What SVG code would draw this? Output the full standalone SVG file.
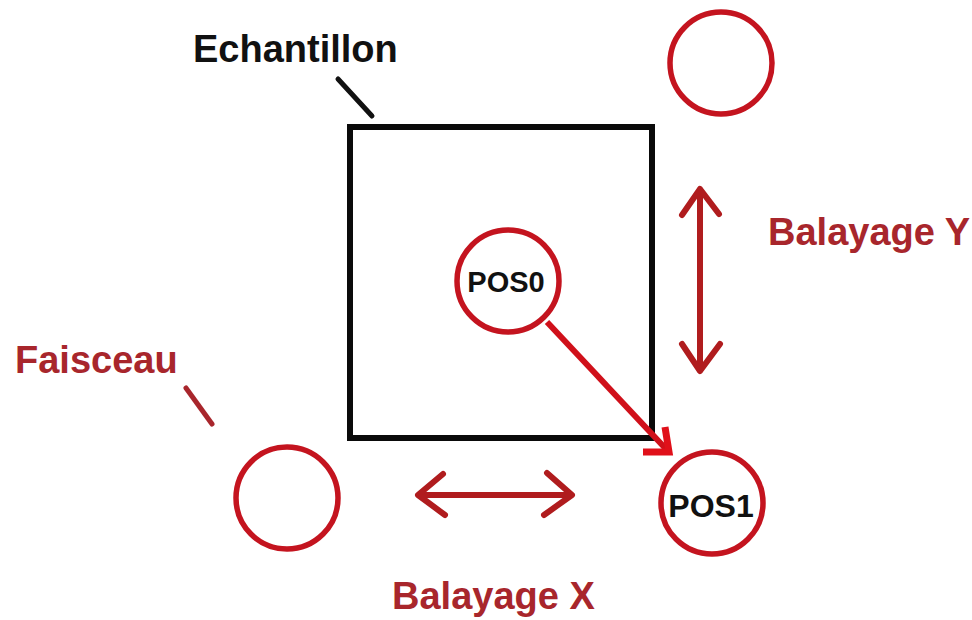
<svg xmlns="http://www.w3.org/2000/svg" width="972" height="620" viewBox="0 0 972 620">
<style>
.lbl{font-family:"Liberation Sans",Arial,sans-serif;font-weight:bold;font-size:38px}
.red{fill:#a8262c}
.blk{fill:#111}
.pos{font-family:"Liberation Sans",Arial,sans-serif;font-weight:bold;fill:#111;text-anchor:middle}
.circ{fill:none;stroke:#c4141f;stroke-width:5.5}
.dbl{fill:none;stroke:#b01c1e;stroke-width:6;stroke-linecap:round;stroke-linejoin:round}
</style>
<rect width="972" height="620" fill="#fff"/>
<g id="echantillon">
<rect x="350" y="127" width="302" height="311" fill="none" stroke="#0a0a0a" stroke-width="6"/>
<text class="lbl blk" x="193" y="62">Echantillon</text>
<line x1="338" y1="79" x2="372" y2="116" stroke="#111" stroke-width="5" stroke-linecap="round"/>
</g>
<g id="circle-top">
<circle class="circ" cx="721" cy="63" r="51"/>
</g>
<g id="pos0">
<circle class="circ" cx="508" cy="281" r="51"/>
<text class="pos" x="506" y="292" font-size="29">POS0</text>
</g>
<g id="pos1">
<circle class="circ" cx="712" cy="503" r="51"/>
<text class="pos" x="711" y="517" font-size="32">POS1</text>
</g>
<g id="faisceau">
<circle class="circ" cx="287" cy="498" r="51"/>
<text class="lbl red" x="15" y="373">Faisceau</text>
<line x1="186" y1="388" x2="212" y2="424" stroke="#a8262c" stroke-width="5" stroke-linecap="round"/>
</g>
<g id="balayage-y">
<text class="lbl red" x="768" y="245">Balayage Y</text>
</g>
<g id="balayage-x">
<text class="lbl red" x="392" y="609">Balayage X</text>
</g>
<g id="connectors">
<line x1="547" y1="322" x2="666" y2="449" stroke="#d0101a" stroke-width="6"/>
<path d="M643,452 L669,452 L665,427" fill="none" stroke="#e0101a" stroke-width="7" stroke-linejoin="miter"/>
<line class="dbl" x1="700" y1="190" x2="700" y2="370"/>
<polyline class="dbl" points="682,215 700,189 719,214"/>
<polyline class="dbl" points="682,344 700,371 720,344"/>
<line class="dbl" x1="420" y1="495" x2="570" y2="495"/>
<polyline class="dbl" points="443,474 418,495 445,515"/>
<polyline class="dbl" points="547,473 572,495 544,515"/>
</g>
</svg>
